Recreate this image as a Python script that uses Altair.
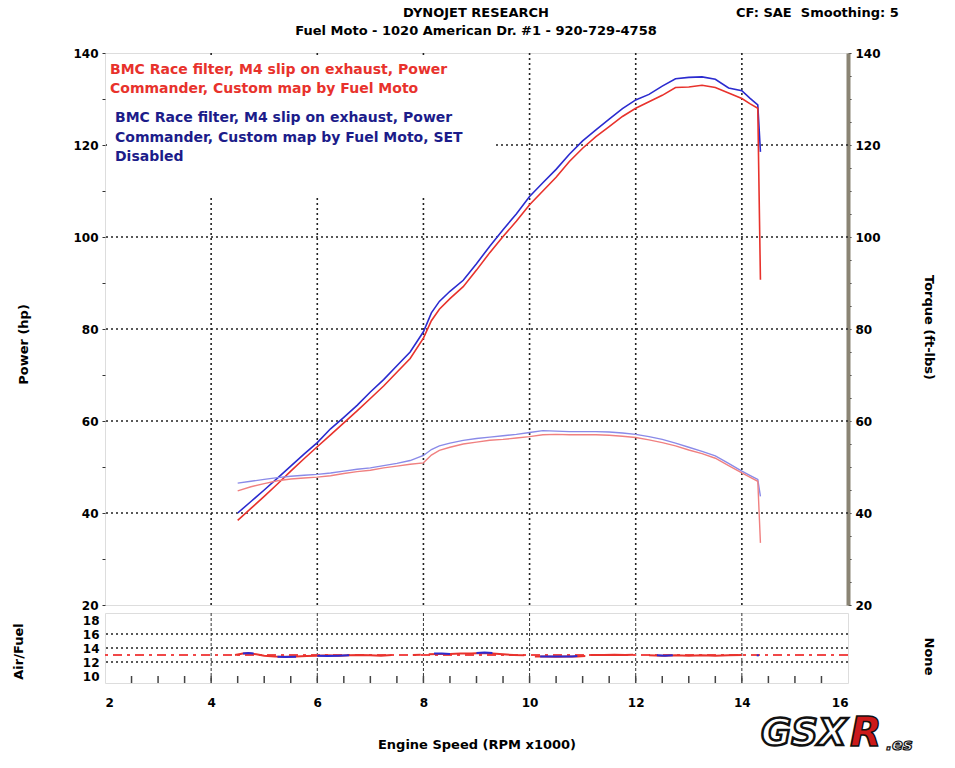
import altair as alt
import pandas as pd

# ---------------- data ----------------
power_rpm = [4.5, 4.75, 5.0, 5.25, 5.5, 5.75, 6.0, 6.25, 6.5, 6.75, 7.0, 7.25, 7.5, 7.75, 8.0, 8.15, 8.3,
             8.5, 8.75, 9.0, 9.25, 9.5, 9.75, 10.0, 10.25, 10.5, 10.75, 11.0, 11.25, 11.5, 11.75, 12.0,
             12.25, 12.5, 12.75, 13.0, 13.25, 13.5, 13.75, 14.0, 14.15, 14.3, 14.35]
power_blue = [40.0, 42.5, 45.0, 47.6, 50.2, 52.8, 55.3, 58.3, 60.8, 63.4, 66.3, 69.0, 72.0, 75.0, 79.4,
              83.5, 86.0, 88.2, 90.6, 94.2, 98.0, 101.6, 105.0, 108.8, 111.8, 114.7, 118.0, 120.9, 123.3,
              125.6, 127.9, 129.8, 131.0, 132.8, 134.4, 134.7, 134.8, 134.3, 132.4, 131.8, 130.2, 128.7, 118.5]
power_red = [38.4, 41.0, 43.6, 46.3, 49.1, 51.8, 54.4, 57.0, 59.6, 62.2, 64.9, 67.6, 70.6, 73.6, 78.0,
             81.8, 84.3, 86.6, 89.2, 92.8, 96.6, 100.1, 103.4, 107.0, 110.0, 113.0, 116.4, 119.3, 121.8,
             124.0, 126.2, 128.0, 129.4, 130.8, 132.5, 132.6, 133.0, 132.5, 131.3, 130.1, 129.0, 128.0, 90.7]

torque_rpm = power_rpm
torque_blue = [46.5, 46.9, 47.3, 47.7, 48.0, 48.2, 48.4, 48.7, 49.1, 49.5, 49.8, 50.3, 50.8, 51.4, 52.5,
               53.8, 54.6, 55.2, 55.8, 56.2, 56.5, 56.8, 57.1, 57.5, 57.9, 57.8, 57.7, 57.7, 57.7, 57.6,
               57.4, 57.1, 56.6, 56.0, 55.2, 54.3, 53.4, 52.4, 50.8, 49.1, 48.2, 47.3, 43.6]
torque_red = [44.8, 45.7, 46.4, 47.0, 47.4, 47.6, 47.8, 48.1, 48.6, 49.0, 49.3, 49.8, 50.2, 50.6, 50.9,
              52.6, 53.6, 54.3, 55.0, 55.4, 55.8, 56.0, 56.3, 56.6, 57.0, 57.1, 57.0, 57.0, 57.0, 56.9,
              56.7, 56.4, 55.9, 55.3, 54.6, 53.7, 52.9, 51.9, 50.3, 48.7, 47.8, 46.9, 33.5]

afr_red_rpm = [4.45, 4.6, 4.7, 4.85, 5.0, 5.2, 5.4, 5.6, 5.8, 6.0, 6.2, 6.4, 6.6, 6.8, 7.0, 7.2, 7.4,
               7.8, 7.95,
               8.1, 8.3, 8.5, 8.7, 8.9, 9.1, 9.3, 9.5, 9.7, 9.9,
               10.1, 10.3, 10.5, 10.7, 10.9, 11.05,
               11.15, 11.4, 11.6, 11.8, 11.95,
               12.25, 12.5, 12.75, 13.0, 13.25, 13.5, 13.75, 14.0]
afr_red = [13.0, 13.2, 13.25, 13.1, 12.9, 12.8, 12.75, 12.8, 12.85, 12.9, 12.95, 12.9, 12.95, 13.0, 12.95, 12.9, 13.0,
           13.0, 13.05,
           13.1, 13.15, 13.15, 13.2, 13.2, 13.3, 13.2, 13.1, 13.0, 12.95,
           12.8, 12.8, 12.75, 12.8, 12.8, 12.85,
           13.0, 13.0, 13.05, 13.0, 13.05,
           12.95, 12.9, 12.95, 12.9, 12.95, 12.9, 12.95, 13.0]
afr_red_seg = [1] * 17 + [2] * 2 + [3] * 10 + [4] * 6 + [5] * 5 + [6] * 8

afr_blue_rpm = [4.6, 4.7, 4.8, 5.25, 5.4, 5.6, 6.0, 6.2, 6.4, 6.6, 8.2, 8.35, 8.5, 9.0, 9.15, 9.3,
                10.2, 10.4, 10.6, 10.8, 10.9, 12.4, 12.55, 12.7, 14.28, 14.32]
afr_blue = [13.2, 13.3, 13.2, 12.75, 12.7, 12.75, 12.9, 12.85, 12.9, 12.95, 13.2, 13.2, 13.15, 13.3,
            13.35, 13.3, 12.8, 12.78, 12.8, 12.8, 12.85, 12.95, 12.9, 12.95, 12.95, 12.95]
afr_blue_seg = [1] * 3 + [2] * 3 + [3] * 4 + [4] * 3 + [5] * 3 + [6] * 5 + [7] * 3 + [8] * 2

afr_reference = [13.0]

grid_rpm = [4, 6, 8, 10, 12, 14]
grid_power = [40, 60, 80, 100, 120]
grid_afr = [12, 14, 16]
afr_labels = [10, 12, 14, 16, 18]
minor_rpm = [x / 2 for x in range(5, 32)]
x_labels = [2, 4, 6, 8, 10, 12, 14, 16]

header_lines = ["DYNOJET RESEARCH", "Fuel Moto - 1020 American Dr. #1 - 920-729-4758"]
header_right = "CF: SAE\u00a0\u00a0Smoothing: 5"
legend_red = ["BMC Race filter, M4 slip on exhaust, Power", "Commander, Custom map by Fuel Moto"]
legend_blue = ["BMC Race filter, M4 slip on exhaust, Power", "Commander, Custom map by Fuel Moto, SET", "Disabled"]

RED = "#e8322c"
BLUE = "#2b2bcf"
RED_T = "#f08080"
BLUE_T = "#8a8ae8"
FONT = "DejaVu Sans"

power_df = pd.DataFrame({
    "rpm": power_rpm * 2,
    "value": power_blue + power_red,
    "run": ["blue"] * len(power_rpm) + ["red"] * len(power_rpm),
})
torque_df = pd.DataFrame({
    "rpm": torque_rpm * 2,
    "value": torque_blue + torque_red,
    "run": ["blue"] * len(torque_rpm) + ["red"] * len(torque_rpm),
})
afr_df = pd.DataFrame({
    "rpm": afr_red_rpm + afr_blue_rpm,
    "afr": afr_red + afr_blue,
    "run": ["red"] * len(afr_red_rpm) + ["blue"] * len(afr_blue_rpm),
    "seg": [f"r{s}" for s in afr_red_seg] + [f"b{s}" for s in afr_blue_seg],
})

W, H_MAIN, H_AFR = 743, 552, 70
xscale = alt.Scale(domain=[2, 16], nice=False, zero=False)
pscale = alt.Scale(domain=[20, 140], nice=False, zero=False)
ascale = alt.Scale(domain=[9, 19], nice=False, zero=False)
xnone = alt.X("rpm:Q", scale=xscale, axis=None)

# ---------------- main panel ----------------
vgrid = alt.Chart(pd.DataFrame({"rpm": grid_rpm})).mark_rule(
    color="#222", strokeDash=[2, 3], strokeWidth=1.6).encode(x=xnone)

hgrid = alt.Chart(pd.DataFrame({"value": grid_power})).mark_rule(
    color="#222", strokeDash=[2, 3], strokeWidth=1.6).encode(
    y=alt.Y("value:Q", scale=pscale, axis=alt.Axis(
        values=list(range(20, 141, 5)), labelExpr="datum.value % 20 == 0 ? datum.label : ''",
        title="Power (hp)", titleFont=FONT, titleFontSize=13, titleFontWeight="bold",
        titleX=-82, titleY=H_MAIN / 2 + 15, titleAngle=-90, titleBaseline="middle", titleAlign="center",
        labelFont=FONT, labelFontSize=12, labelFontWeight="bold", labelColor="black",
        tickSize=3, tickColor="#333", domain=False, grid=False, labelPadding=4)))

box = alt.Chart(pd.DataFrame({"rpm": [2]})).mark_rect(fill="white").encode(
    x=alt.value(2), x2=alt.value(391), y=alt.value(2), y2=alt.value(145))

colors = alt.Scale(domain=["red", "blue"], range=[RED, BLUE])
power_lines = alt.Chart(power_df).mark_line(strokeWidth=1.6).encode(
    x=xnone, y=alt.Y("value:Q", scale=pscale),
    color=alt.Color("run:N", scale=colors, legend=None), detail="run:N")

leg_red = alt.Chart(pd.DataFrame({"t": legend_red, "i": [0, 1]})).mark_text(
    align="left", baseline="middle", font=FONT, fontSize=14, fontWeight="bold", color=RED).encode(
    text="t:N", x=alt.value(5),
    y=alt.Y("i:Q", axis=None, scale=alt.Scale(domain=[0, 1], range=[17, 36])))

leg_blue = alt.Chart(pd.DataFrame({"t": legend_blue, "i": [0, 1, 2]})).mark_text(
    align="left", baseline="middle", font=FONT, fontSize=14, fontWeight="bold", color="#1c1c8a").encode(
    text="t:N", x=alt.value(10),
    y=alt.Y("i:Q", axis=None, scale=alt.Scale(domain=[0, 2], range=[65, 104])))

header = alt.Chart(pd.DataFrame({"t": header_lines, "i": [0, 1]})).mark_text(
    align="center", baseline="middle", font=FONT, fontSize=13, fontWeight="bold", color="black").encode(
    text="t:N", x=alt.value(371),
    y=alt.Y("i:Q", axis=None, scale=alt.Scale(domain=[0, 1], range=[-40, -22])))

cf_text = alt.Chart(pd.DataFrame({"t": [header_right]})).mark_text(
    align="left", baseline="middle", font=FONT, fontSize=13, fontWeight="bold", color="black").encode(
    text="t:N", x=alt.value(631), y=alt.value(-40))

left_part = alt.layer(vgrid, hgrid, box, power_lines, cf_text)

torque_lines = alt.Chart(torque_df).mark_line(strokeWidth=1.4).encode(
    x=xnone,
    y=alt.Y("value:Q", scale=pscale, axis=alt.Axis(
        orient="right", values=list(range(20, 141, 5)),
        labelExpr="datum.value % 20 == 0 ? datum.label : ''",
        title="Torque (ft-lbs)", titleFont=FONT, titleFontSize=13, titleFontWeight="bold",
        titleAngle=90, titleX=80, titleY=H_MAIN / 2 - 2, titleBaseline="middle", titleAlign="center",
        labelFont=FONT, labelFontSize=12, labelFontWeight="bold", labelColor="black",
        tickSize=3, tickColor="#333", domain=True, domainColor="#8a8474", domainWidth=4,
        grid=False, labelPadding=4)),
    color=alt.Color("run:N", scale=alt.Scale(domain=["red", "blue"], range=[RED_T, BLUE_T]), legend=None),
    detail="run:N")

main = alt.layer(left_part, torque_lines, leg_red, leg_blue, header).resolve_scale(
    y="independent", color="independent").properties(width=W, height=H_MAIN)

# ---------------- AFR panel ----------------
vgrid2 = alt.Chart(pd.DataFrame({"rpm": grid_rpm})).mark_rule(
    color="#333", strokeDash=[3, 2], strokeWidth=1).encode(
    x=alt.X("rpm:Q", scale=xscale, axis=alt.Axis(
        values=x_labels, format="d", title="Engine Speed (RPM x1000)", titleFont=FONT, titleFontSize=13,
        titleFontWeight="bold", titlePadding=30, labelFont=FONT, labelFontSize=12, labelFontWeight="bold",
        labelColor="black", ticks=False, domain=False, grid=False, labelPadding=14)))

hgrid2 = alt.Chart(pd.DataFrame({"afr": grid_afr})).mark_rule(
    color="#222", strokeDash=[2, 3], strokeWidth=1.6).encode(
    y=alt.Y("afr:Q", scale=ascale, axis=None))

minor_ticks = alt.Chart(pd.DataFrame({"rpm": minor_rpm})).mark_rule(color="#444", strokeWidth=1.5).encode(
    x=alt.X("rpm:Q", scale=xscale), y=alt.value(H_AFR - 7), y2=alt.value(H_AFR))

ref_line = alt.Chart(pd.DataFrame({"afr": afr_reference})).mark_rule(
    color="#f04848", strokeDash=[9, 5, 3, 5], strokeWidth=2.2).encode(
    y=alt.Y("afr:Q", scale=ascale, axis=None))

afr_lines = alt.Chart(afr_df).mark_line(strokeWidth=2).encode(
    x=alt.X("rpm:Q", scale=xscale), y=alt.Y("afr:Q", scale=ascale, axis=None),
    color=alt.Color("run:N", scale=colors, legend=None), detail="seg:N")

afr_left = alt.layer(vgrid2, hgrid2, minor_ticks, ref_line, afr_lines)

afr_axis = alt.Chart(pd.DataFrame({"afr": afr_labels})).mark_rule(opacity=0).encode(
    y=alt.Y("afr:Q", scale=ascale, axis=alt.Axis(
        orient="left", values=afr_labels, title="Air/Fuel", titleFont=FONT, titleFontSize=13,
        titleFontWeight="bold", titleX=-87, titleY=H_AFR / 2 + 3, titleAngle=-90, titleBaseline="middle",
        titleAlign="center", labelFont=FONT, labelFontSize=12, labelFontWeight="bold", labelColor="black",
        labelOverlap=False, labelFlush=False, labelBound=False, tickSize=0, domain=False, grid=False,
        labelPadding=6)))

none_axis = alt.Chart(pd.DataFrame({"afr": afr_reference})).mark_rule(opacity=0).encode(
    y=alt.Y("afr:Q", scale=ascale, axis=alt.Axis(
        orient="right", labels=False, ticks=False, domain=False, grid=False, title="None",
        titleFont=FONT, titleFontSize=13, titleFontWeight="bold", titleAngle=90, titleX=80,
        titleY=H_AFR / 2 + 8, titleBaseline="middle", titleAlign="center")))

logo_gsx = alt.Chart(pd.DataFrame({"t": ["GSX"]})).mark_text(
    align="left", baseline="middle", font=FONT, fontStyle="italic", fontWeight="bold", fontSize=37,
    color="white", stroke="#111", strokeWidth=2.5).encode(
    text="t:N", x=alt.value(656), y=alt.value(H_AFR + 51))
logo_r = alt.Chart(pd.DataFrame({"t": ["R"]})).mark_text(
    align="left", baseline="middle", font=FONT, fontStyle="italic", fontWeight="bold", fontSize=41,
    color="#cc1a1a", stroke="#111", strokeWidth=1.5).encode(
    text="t:N", x=alt.value(745), y=alt.value(H_AFR + 51))
logo_es = alt.Chart(pd.DataFrame({"t": [".es"]})).mark_text(
    align="left", baseline="middle", font=FONT, fontStyle="italic", fontWeight="bold", fontSize=16,
    color="white", stroke="#111", strokeWidth=1.2).encode(
    text="t:N", x=alt.value(781), y=alt.value(H_AFR + 62))

afr = alt.layer(afr_left, afr_axis, none_axis, logo_gsx, logo_r, logo_es).resolve_scale(
    y="independent", x="independent", color="independent").properties(width=W, height=H_AFR)

chart = alt.vconcat(main, afr, spacing=0).properties(
    padding={"left": 11, "top": 6, "right": 10, "bottom": 5},
).configure_view(
    stroke="#5a554c", strokeWidth=2.5, cornerRadius=10
).configure_axis(labelOverlap=False).configure(background="white")

chart.save("out.html", embed_options={"renderer": "svg", "actions": False})
